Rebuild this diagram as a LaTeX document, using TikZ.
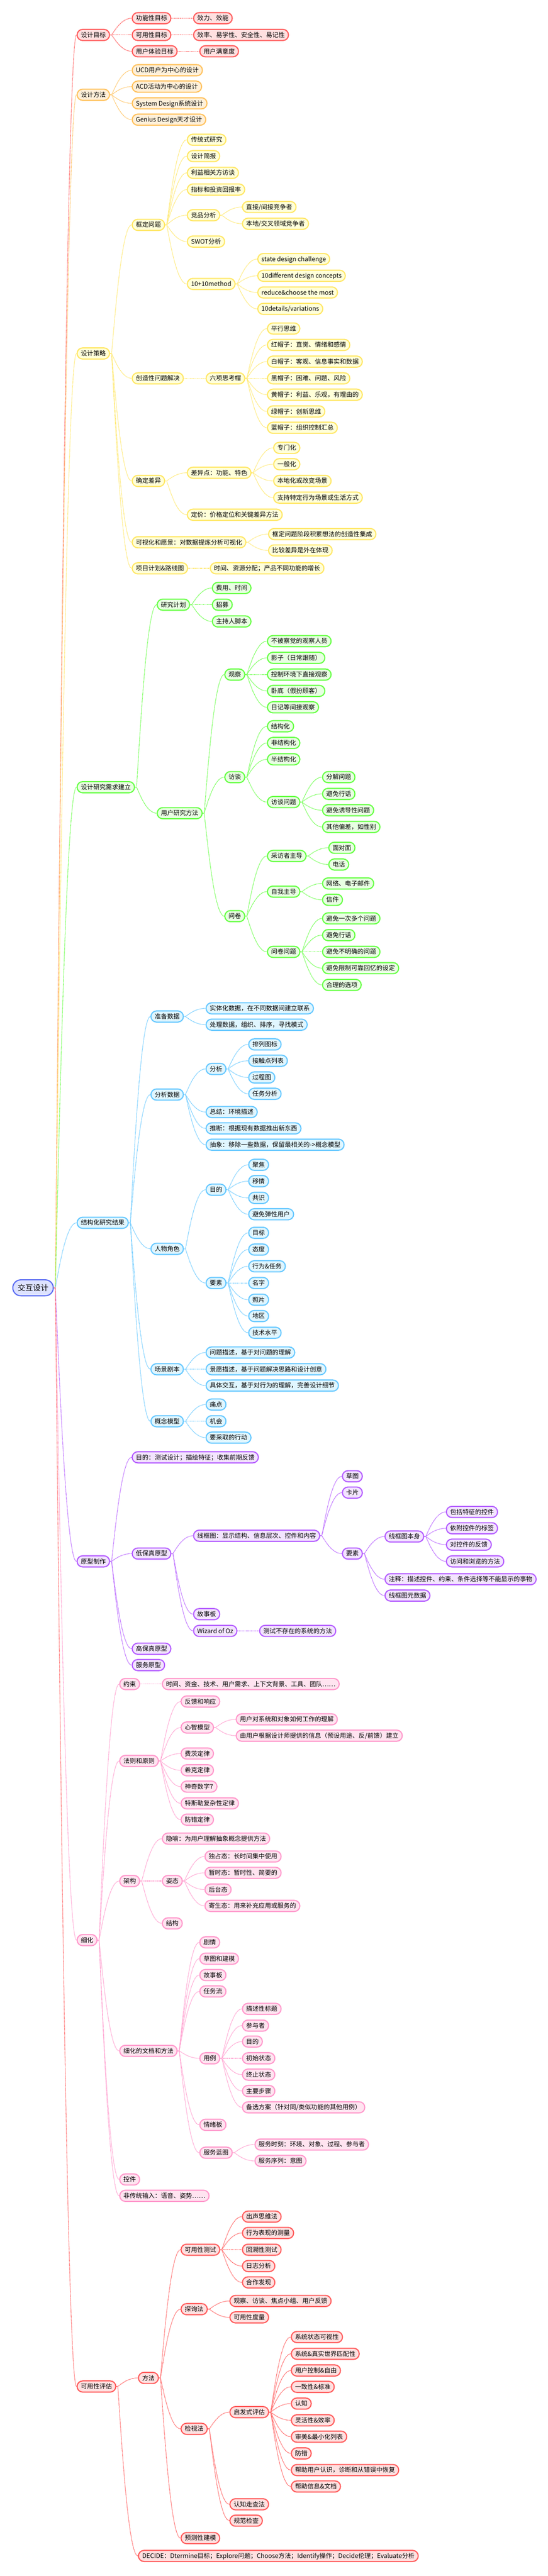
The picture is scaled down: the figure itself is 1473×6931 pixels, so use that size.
\documentclass[tikz,border=0pt]{standalone}
\usepackage{fontspec}
\setmainfont{Noto Sans CJK SC}
\usetikzlibrary{calc}
\definecolor{rootB}{HTML}{5B6CF2}\definecolor{rootF}{HTML}{DDE2FF}
\definecolor{redB}{HTML}{FF5C5C}\definecolor{redF}{HTML}{FFE0E0}
\definecolor{orgB}{HTML}{FFC25E}\definecolor{orgF}{HTML}{FFF0D9}
\definecolor{yelB}{HTML}{FFE766}\definecolor{yelF}{HTML}{FFFFD9}
\definecolor{grnB}{HTML}{66FF44}\definecolor{grnF}{HTML}{E8FFE2}
\definecolor{bluB}{HTML}{66C8FF}\definecolor{bluF}{HTML}{E0F6FF}
\definecolor{purB}{HTML}{B45CFF}\definecolor{purF}{HTML}{F3E4FF}
\definecolor{pnkB}{HTML}{FF99CC}\definecolor{pnkF}{HTML}{FFE4F0}
\tikzset{
 box/.style={rounded corners=15pt, line width=3pt, inner xsep=10pt, inner ysep=0pt,
   minimum height=30pt, font=\fontsize{16.8}{18}\selectfont, text=black,
   text height=14.6pt, text depth=2.2pt},
 lk/.style={line width=1.8pt, dash pattern=on 2pt off 1.2pt},
}
\newcommand\kid[6][58]{%
 \path (#4.east) ++(#1,0) coordinate (tmpc);
 \node[box, draw=#2B, fill=#2F, anchor=west] (#3) at (tmpc |- 0,#5) {#6};
 \draw[lk, draw=#2B] let \p1=($(#4.east)+(4,0)$), \p2=(#3.west) in
   (#4.east) -- (\p1) .. controls ({\x1+0.15*(\x2-\x1)},{\y1+0.25*(\y2-\y1)})
   and ({\x1+0.5*(\x2-\x1)},\y2) .. (\p2);
}
\begin{document}
\begin{tikzpicture}[x=1pt,y=-1pt]
\useasboundingbox (0,0) rectangle (1473,6931);
\node[box, draw=rootB, fill=rootF, font=\fontsize{20.7}{22}\selectfont, minimum height=43pt,
  inner xsep=13pt, rounded corners=21.5pt, text height=18pt, text depth=2.7pt, anchor=west] (root) at (33,3465) {交互设计};

% ---------- 设计目标
\kid[61]{red}{a}{root}{94}{设计目标}
\kid{red}{a1}{a}{49}{功能性目标}
\kid{red}{a1a}{a1}{49}{效力、效能}
\kid{red}{a2}{a}{94}{可用性目标}
\kid{red}{a2a}{a2}{94}{效率、易学性、安全性、易记性}
\kid{red}{a3}{a}{138}{用户体验目标}
\kid{red}{a3a}{a3}{138}{用户满意度}

% ---------- 设计方法
\kid[61]{org}{b}{root}{255}{设计方法}
\kid{org}{b1}{b}{189}{UCD用户为中心的设计}
\kid{org}{b2}{b}{233}{ACD活动为中心的设计}
\kid{org}{b3}{b}{278}{System Design系统设计}
\kid{org}{b4}{b}{322}{Genius Design天才设计}

% ---------- 设计策略
\kid[61]{yel}{c}{root}{951}{设计策略}
\kid{yel}{c1}{c}{605}{框定问题}
\kid{yel}{c1a}{c1}{376}{传统式研究}
\kid{yel}{c1b}{c1}{420}{设计简报}
\kid{yel}{c1c}{c1}{465}{利益相关方访谈}
\kid{yel}{c1d}{c1}{510}{指标和投资回报率}
\kid{yel}{c1e}{c1}{579}{竞品分析}
\kid{yel}{c1e1}{c1e}{557}{直接/间接竞争者}
\kid{yel}{c1e2}{c1e}{602}{本地/交叉领域竞争者}
\kid{yel}{c1f}{c1}{650}{SWOT分析}
\kid{yel}{c1g}{c1}{764}{10+10method}
\kid{yel}{c1g1}{c1g}{697}{state design challenge}
\kid{yel}{c1g2}{c1g}{742}{10different design concepts}
\kid{yel}{c1g3}{c1g}{787}{reduce\&choose the most}
\kid{yel}{c1g4}{c1g}{831}{10details/variations}
\kid{yel}{c2}{c}{1018}{创造性问题解决}
\kid{yel}{c2a}{c2}{1018}{六项思考帽}
\kid{yel}{c2a1}{c2a}{884}{平行思维}
\kid{yel}{c2a2}{c2a}{928}{红帽子：直觉、情绪和感情}
\kid{yel}{c2a3}{c2a}{973}{白帽子：客观、信息事实和数据}
\kid{yel}{c2a4}{c2a}{1018}{黑帽子：困难、问题、风险}
\kid{yel}{c2a5}{c2a}{1062}{黄帽子：利益、乐观，有理由的}
\kid{yel}{c2a6}{c2a}{1107}{绿帽子：创新思维}
\kid{yel}{c2a7}{c2a}{1151}{蓝帽子：组织控制汇总}
\kid{yel}{c3}{c}{1294}{确定差异}
\kid{yel}{c3a}{c3}{1272}{差异点：功能、特色}
\kid{yel}{c3a1}{c3a}{1205}{专门化}
\kid{yel}{c3a2}{c3a}{1249}{一般化}
\kid{yel}{c3a3}{c3a}{1294}{本地化或改变场景}
\kid{yel}{c3a4}{c3a}{1339}{支持特定行为场景或生活方式}
\kid{yel}{c3b}{c3}{1385}{定价：价格定位和关键差异方法}
\kid{yel}{c4}{c}{1459}{可视化和愿景：对数据提炼分析可视化}
\kid{yel}{c4a}{c4}{1437}{框定问题阶段积累想法的创造性集成}
\kid{yel}{c4b}{c4}{1481}{比较差异是外在体现}
\kid{yel}{c5}{c}{1529}{项目计划\&路线图}
\kid{yel}{c5a}{c5}{1529}{时间、资源分配；产品不同功能的增长}

% ---------- 设计研究需求建立
\kid[61]{grn}{d}{root}{2118}{设计研究需求建立}
\kid{grn}{d1}{d}{1627}{研究计划}
\kid{grn}{d1a}{d1}{1582}{费用、时间}
\kid{grn}{d1b}{d1}{1627}{招募}
\kid{grn}{d1c}{d1}{1672}{主持人脚本}
\kid{grn}{d2}{d}{2188}{用户研究方法}
\kid{grn}{d2a}{d2}{1815}{观察}
\kid{grn}{d2a1}{d2a}{1725}{不被察觉的观察人员}
\kid{grn}{d2a2}{d2a}{1770}{影子（日常跟随）}
\kid{grn}{d2a3}{d2a}{1815}{控制环境下直接观察}
\kid{grn}{d2a4}{d2a}{1859}{卧底（假扮顾客）}
\kid{grn}{d2a5}{d2a}{1903}{日记等间接观察}
\kid{grn}{d2b}{d2}{2091}{访谈}
\kid{grn}{d2b1}{d2b}{1954}{结构化}
\kid{grn}{d2b2}{d2b}{1999}{非结构化}
\kid{grn}{d2b3}{d2b}{2043}{半结构化}
\kid{grn}{d2b4}{d2b}{2158}{访谈问题}
\kid{grn}{d2b41}{d2b4}{2091}{分解问题}
\kid{grn}{d2b42}{d2b4}{2136}{避免行话}
\kid{grn}{d2b43}{d2b4}{2180}{避免诱导性问题}
\kid{grn}{d2b44}{d2b4}{2225}{其他偏差，如性别}
\kid{grn}{d2c}{d2}{2465}{问卷}
\kid{grn}{d2c1}{d2c}{2303}{采访者主导}
\kid{grn}{d2c11}{d2c1}{2281}{面对面}
\kid{grn}{d2c12}{d2c1}{2326}{电话}
\kid{grn}{d2c2}{d2c}{2399}{自我主导}
\kid{grn}{d2c21}{d2c2}{2377}{网络、电子邮件}
\kid{grn}{d2c22}{d2c2}{2421}{信件}
\kid{grn}{d2c3}{d2c}{2561}{问卷问题}
\kid{grn}{d2c31}{d2c3}{2471}{避免一次多个问题}
\kid{grn}{d2c32}{d2c3}{2516}{避免行话}
\kid{grn}{d2c33}{d2c3}{2561}{避免不明确的问题}
\kid{grn}{d2c34}{d2c3}{2605}{避免限制可靠回忆的设定}
\kid{grn}{d2c35}{d2c3}{2650}{合理的选项}

% ---------- 结构化研究结果
\kid[61]{blu}{e}{root}{3290}{结构化研究结果}
\kid{blu}{e1}{e}{2735}{准备数据}
\kid{blu}{e1a}{e1}{2713}{实体化数据，在不同数据间建立联系}
\kid{blu}{e1b}{e1}{2757}{处理数据，组织、排序，寻找模式}
\kid{blu}{e2}{e}{2945}{分析数据}
\kid{blu}{e2a}{e2}{2876}{分析}
\kid{blu}{e2a1}{e2a}{2810}{排列图标}
\kid{blu}{e2a2}{e2a}{2854}{接触点列表}
\kid{blu}{e2a3}{e2a}{2899}{过程图}
\kid{blu}{e2a4}{e2a}{2943}{任务分析}
\kid{blu}{e2b}{e2}{2992}{总结：环境描述}
\kid{blu}{e2c}{e2}{3036}{推断：根据现有数据推出新东西}
\kid{blu}{e2d}{e2}{3080}{抽象：移除一些数据，保留最相关的->概念模型}
\kid{blu}{e3}{e}{3360}{人物角色}
\kid{blu}{e3a}{e3}{3201}{目的}
\kid{blu}{e3a1}{e3a}{3134}{聚焦}
\kid{blu}{e3a2}{e3a}{3178}{移情}
\kid{blu}{e3a3}{e3a}{3223}{共识}
\kid{blu}{e3a4}{e3a}{3267}{避免弹性用户}
\kid{blu}{e3b}{e3}{3452}{要素}
\kid{blu}{e3b1}{e3b}{3317}{目标}
\kid{blu}{e3b2}{e3b}{3362}{态度}
\kid{blu}{e3b3}{e3b}{3407}{行为\&任务}
\kid{blu}{e3b4}{e3b}{3452}{名字}
\kid{blu}{e3b5}{e3b}{3497}{照片}
\kid{blu}{e3b6}{e3b}{3541}{地区}
\kid{blu}{e3b7}{e3b}{3586}{技术水平}
\kid{blu}{e4}{e}{3684}{场景剧本}
\kid{blu}{e4a}{e4}{3639}{问题描述，基于对问题的理解}
\kid{blu}{e4b}{e4}{3684}{景愿描述，基于问题解决思路和设计创意}
\kid{blu}{e4c}{e4}{3728}{具体交互，基于对行为的理解，完善设计细节}
\kid{blu}{e5}{e}{3824}{概念模型}
\kid{blu}{e5a}{e5}{3779}{痛点}
\kid{blu}{e5b}{e5}{3824}{机会}
\kid{blu}{e5c}{e5}{3868}{要采取的行动}

% ---------- 原型制作
\kid[61]{pur}{f}{root}{4201}{原型制作}
\kid{pur}{f1}{f}{3921}{目的：测试设计；描绘特征；收集前期反馈}
\kid{pur}{f2}{f}{4180}{低保真原型}
\kid{pur}{f2a}{f2}{4132}{线框图：显示结构、信息层次、控件和内容}
\kid{pur}{f2a1}{f2a}{3972}{草图}
\kid{pur}{f2a2}{f2a}{4016}{卡片}
\kid{pur}{f2a3}{f2a}{4180}{要素}
\kid{pur}{f2a31}{f2a3}{4134}{线框图本身}
\kid{pur}{f2a311}{f2a31}{4068}{包括特征的控件}
\kid{pur}{f2a312}{f2a31}{4112}{依附控件的标签}
\kid{pur}{f2a313}{f2a31}{4156}{对控件的反馈}
\kid{pur}{f2a314}{f2a31}{4201}{访问和浏览的方法}
\kid{pur}{f2a32}{f2a3}{4249}{注释：描述控件、约束、条件选择等不能显示的事物}
\kid{pur}{f2a33}{f2a3}{4293}{线框图元数据}
\kid{pur}{f2b}{f2}{4343}{故事板}
\kid{pur}{f2c}{f2}{4388}{Wizard of Oz}
\kid{pur}{f2c1}{f2c}{4388}{测试不存在的系统的方法}
\kid{pur}{f3}{f}{4436}{高保真原型}
\kid{pur}{f4}{f}{4480}{服务原型}

% ---------- 细化
\kid[61]{pnk}{g}{root}{5220}{细化}
\kid{pnk}{g1}{g}{4531}{约束}
\kid{pnk}{g1a}{g1}{4531}{时间、资金、技术、用户需求、上下文背景、工具、团队……}
\kid{pnk}{g2}{g}{4738}{法则和原则}
\kid{pnk}{g2a}{g2}{4578}{反馈和响应}
\kid{pnk}{g2b}{g2}{4648}{心智模型}
\kid{pnk}{g2b1}{g2b}{4626}{用户对系统和对象如何工作的理解}
\kid{pnk}{g2b2}{g2b}{4670}{由用户根据设计师提供的信息（预设用途、反/前馈）建立}
\kid{pnk}{g2c}{g2}{4718}{费茨定律}
\kid{pnk}{g2d}{g2}{4763}{希克定律}
\kid{pnk}{g2e}{g2}{4807}{神奇数字7}
\kid{pnk}{g2f}{g2}{4852}{特斯勒复杂性定律}
\kid{pnk}{g2g}{g2}{4896}{防错定律}
\kid{pnk}{g3}{g}{5061}{架构}
\kid{pnk}{g3a}{g3}{4947}{隐喻：为用户理解抽象概念提供方法}
\kid{pnk}{g3b}{g3}{5061}{姿态}
\kid{pnk}{g3b1}{g3b}{4995}{独占态：长时间集中使用}
\kid{pnk}{g3b2}{g3b}{5039}{暂时态：暂时性、简要的}
\kid{pnk}{g3b3}{g3b}{5084}{后台态}
\kid{pnk}{g3b4}{g3b}{5128}{寄生态：用来补充应用或服务的}
\kid{pnk}{g3c}{g3}{5175}{结构}
\kid{pnk}{g4}{g}{5518}{细化的文档和方法}
\kid{pnk}{g4a}{g4}{5226}{剧情}
\kid{pnk}{g4b}{g4}{5270}{草图和建模}
\kid{pnk}{g4c}{g4}{5314}{故事板}
\kid{pnk}{g4d}{g4}{5358}{任务流}
\kid{pnk}{g4e}{g4}{5538}{用例}
\kid{pnk}{g4e1}{g4e}{5405}{描述性标题}
\kid{pnk}{g4e2}{g4e}{5450}{参与者}
\kid{pnk}{g4e3}{g4e}{5493}{目的}
\kid{pnk}{g4e4}{g4e}{5538}{初始状态}
\kid{pnk}{g4e5}{g4e}{5582}{终止状态}
\kid{pnk}{g4e6}{g4e}{5626}{主要步骤}
\kid{pnk}{g4e7}{g4e}{5670}{备选方案（针对同/类似功能的其他用例）}
\kid{pnk}{g4f}{g4}{5717}{情绪板}
\kid{pnk}{g4g}{g4}{5792}{服务蓝图}
\kid{pnk}{g4g1}{g4g}{5770}{服务时刻：环境、对象、过程、参与者}
\kid{pnk}{g4g2}{g4g}{5814}{服务序列：意图}
\kid{pnk}{g5}{g}{5864}{控件}
\kid{pnk}{g6}{g}{5908}{非传统输入：语音、姿势……}

% ---------- 可用性评估
\kid[61]{red}{h}{root}{6421}{可用性评估}
\kid{red}{h1}{h}{6398}{方法}
\kid{red}{h1a}{h1}{6053}{可用性测试}
\kid{red}{h1a1}{h1a}{5964}{出声思维法}
\kid{red}{h1a2}{h1a}{6008}{行为表现的测量}
\kid{red}{h1a3}{h1a}{6053}{回溯性测试}
\kid{red}{h1a4}{h1a}{6097}{日志分析}
\kid{red}{h1a5}{h1a}{6141}{合作发现}
\kid{red}{h1b}{h1}{6213}{探询法}
\kid{red}{h1b1}{h1b}{6191}{观察、访谈、焦点小组、用户反馈}
\kid{red}{h1b2}{h1b}{6235}{可用性度量}
\kid{red}{h1c}{h1}{6535}{检视法}
\kid{red}{h1c1}{h1c}{6490}{启发式评估}
\kid{red}{h1c11}{h1c1}{6288}{系统状态可视性}
\kid{red}{h1c12}{h1c1}{6333}{系统\&真实世界匹配性}
\kid{red}{h1c13}{h1c1}{6378}{用户控制\&自由}
\kid{red}{h1c14}{h1c1}{6422}{一致性\&标准}
\kid{red}{h1c15}{h1c1}{6467}{认知}
\kid{red}{h1c16}{h1c1}{6512}{灵活性\&效率}
\kid{red}{h1c17}{h1c1}{6556}{审美\&最小化列表}
\kid{red}{h1c18}{h1c1}{6601}{防错}
\kid{red}{h1c19}{h1c1}{6646}{帮助用户认识，诊断和从错误中恢复}
\kid{red}{h1c1x}{h1c1}{6690}{帮助信息\&文档}
\kid{red}{h1c2}{h1c}{6738}{认知走查法}
\kid{red}{h1c3}{h1c}{6782}{规范检查}
\kid{red}{h1d}{h1}{6829}{预测性建模}
\kid{red}{h2}{h}{6877}{DECIDE：Dtermine目标；Explore问题；Choose方法；Identify操作；Decide伦理；Evaluate分析}
\end{tikzpicture}
\end{document}
